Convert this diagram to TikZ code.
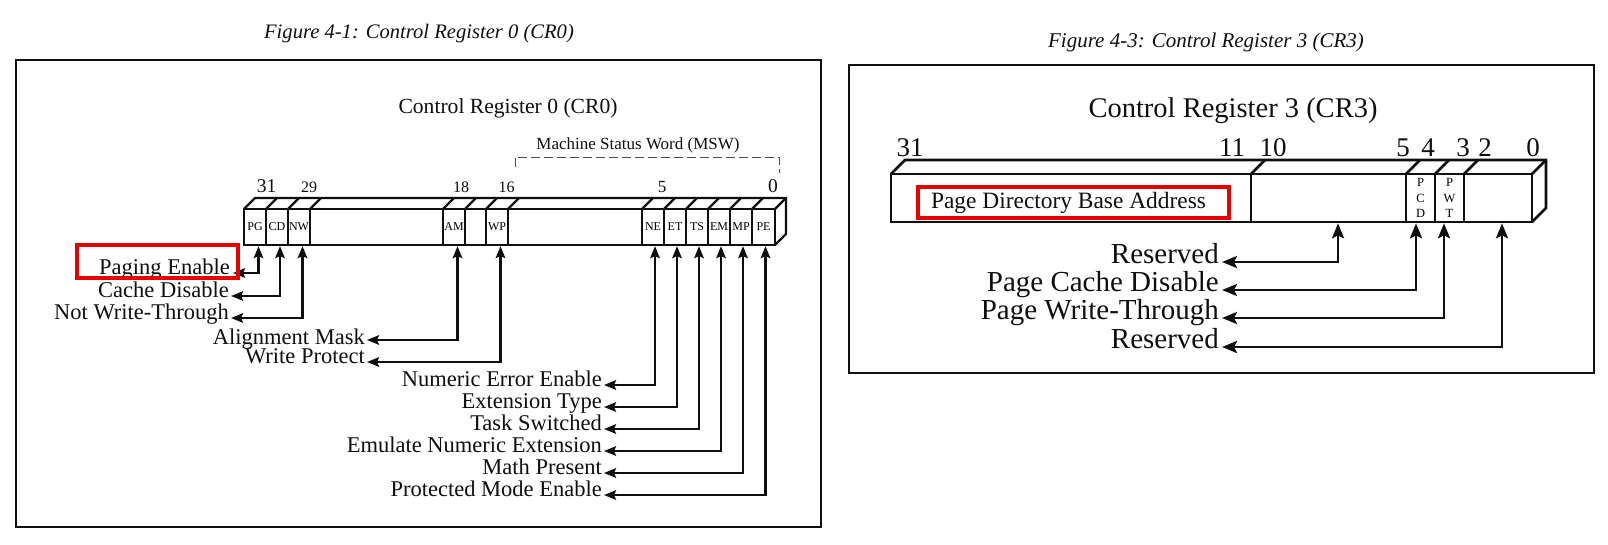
\documentclass[tikz,border=0pt]{standalone}
\usepackage{fontspec}
\setmainfont{Liberation Serif}
\usetikzlibrary{arrows.meta}
\definecolor{ink}{RGB}{15,15,15}
\definecolor{hl}{RGB}{235,0,0}
\tikzset{
  frame/.style={draw=ink, line width=1.5pt},
  lreg/.style={draw=ink, line width=2.2pt, line join=miter},
  rreg/.style={draw=ink, line width=2.6pt, line join=miter},
  lcell/.style={lreg, minimum height=36pt, inner sep=0pt, font=\fontsize{12}{12}\selectfont},
  rcell/.style={rreg, minimum height=48pt, inner sep=0pt},
  lconn/.style={draw=ink, line width=2.4pt, {Stealth[length=12pt,width=9.5pt,inset=2pt]}-{Stealth[length=12pt,width=9.5pt,inset=2pt]}},
  rconn/.style={draw=ink, line width=2.8pt, {Stealth[length=15pt,width=12pt,inset=3pt]}-{Stealth[length=15pt,width=12pt,inset=3pt]}},
  llbl/.style={font=\fontsize{22.5}{24}\selectfont, inner sep=0pt, anchor=base east, text=ink},
  rlbl/.style={font=\fontsize{29}{30}\selectfont, inner sep=0pt, anchor=base east, text=ink},
  lbitbig/.style={font=\fontsize{19.5}{20}\selectfont, inner sep=0pt, anchor=base, text=ink},
  lbitsmall/.style={font=\fontsize{16}{16}\selectfont, inner sep=0pt, anchor=base, text=ink},
  rbit/.style={font=\fontsize{27}{27}\selectfont, inner sep=0pt, anchor=base, text=ink},
  figtitle/.style={font=\fontsize{20.6}{22}\selectfont\itshape, inner sep=0pt, text=ink},
  highlight/.style={draw=hl, line width=3.5pt},
  msw/.style={draw=ink!75, line width=1pt, dash pattern=on 9pt off 4pt}
}
\begin{document}
\begin{tikzpicture}[x=1pt,y=-1pt]
\useasboundingbox (0,0) rectangle (1608,544);
\fill[white] (0,0) rectangle (1608,544);

% ================= LEFT FIGURE =================
\node[figtitle] (ltitle) at (419,34) {Figure 4-1: Control Register 0 (CR0)};
\draw[frame] (16,60) rectangle (821,527);
\node[font=\fontsize{21.6}{22}\selectfont, inner sep=0pt, text=ink] (lhead) at (508,108) {Control Register 0 (CR0)};
\node[font=\fontsize{17}{18}\selectfont, inner sep=0pt, text=ink] (mswt) at (638,145) {Machine Status Word (MSW)};
\draw[msw] (515,167) -- (515,157) -- (779,157) -- (779,173);

% bit numbers
\node[lbitbig] (b31) at (266.5,192) {31};
\node[lbitsmall] (b29) at (309,192) {29};
\node[lbitsmall] (b18) at (461,192) {18};
\node[lbitsmall] (b16) at (506.5,192) {16};
\node[lbitsmall, font=\fontsize{17}{17}\selectfont] (b5) at (662,192) {5};
\node[lbitbig] (b0) at (773,192) {0};

% cells (front face)
\node[lcell, minimum width=22pt] (pg) at (255,227) {PG};
\node[lcell, minimum width=22pt] (cd) at (277,227) {CD};
\node[lcell, minimum width=22pt] (nw) at (299,227) {NW};
\node[lcell, minimum width=133pt] (lg1) at (376.5,227) {};
\node[lcell, minimum width=22pt] (am) at (454,227) {\raisebox{-4.5pt}{AM}};
\node[lcell, minimum width=21pt] (lg2) at (475.5,227) {};
\node[lcell, minimum width=22pt] (wp) at (497,227) {\raisebox{-4.5pt}{WP}};
\node[lcell, minimum width=134pt] (lg3) at (575,227) {};
\node[lcell, minimum width=22pt] (ne) at (653,227) {NE};
\node[lcell, minimum width=22pt] (et) at (675,227) {ET};
\node[lcell, minimum width=22pt] (ts) at (697,227) {TS};
\node[lcell, minimum width=22pt] (em) at (719,227) {EM};
\node[lcell, minimum width=22pt] (mp) at (741,227) {MP};
\node[lcell, minimum width=23pt] (pe) at (763.5,227) {PE};
% top and side faces
\draw[lreg] (244,209) -- ++(11,-11) -- (786,198) -- (786,234) -- (775,245);
\foreach \bx in {266,288,310,443,465,486,508,642,664,686,708,730,752,775}
  \draw[lreg] (\bx,209) -- ++(11,-11);

% labels
\node[llbl] (lpg) at (230,274.5) {Paging Enable};
\node[llbl] (lcd) at (229,297.5) {Cache Disable};
\node[llbl] (lnw) at (229,319.5) {Not Write-Through};
\node[llbl] (lam) at (365,344) {Alignment Mask};
\node[llbl] (lwp) at (365,363.5) {Write Protect};
\node[llbl] (lne) at (602,386.5) {Numeric Error Enable};
\node[llbl] (let) at (602,408.5) {Extension Type};
\node[llbl] (lts) at (602,430.5) {Task Switched};
\node[llbl] (lem) at (602,452.5) {Emulate Numeric Extension};
\node[llbl] (lmp) at (602,474.5) {Math Present};
\node[llbl] (lpe) at (602,496.5) {Protected Mode Enable};

% connectors
\draw[lconn] ([xshift=3.5pt]pg.south) |- ([shift={(3,-1.5)}]lpg.base east);
\draw[lconn] ([xshift=3pt]cd.south) |- ([shift={(2,-1.5)}]lcd.base east);
\draw[lconn] ([xshift=3.5pt]nw.south) |- ([shift={(2,-1.5)}]lnw.base east);
\draw[lconn] ([xshift=3.5pt]am.south) |- ([shift={(2,-4)}]lam.base east);
\draw[lconn] ([xshift=3.5pt]wp.south) |- ([shift={(2,-1.5)}]lwp.base east);
\draw[lconn] ([xshift=2pt]ne.south) |- ([shift={(2,-1.5)}]lne.base east);
\draw[lconn] ([xshift=2pt]et.south) |- ([shift={(2,-1.5)}]let.base east);
\draw[lconn] ([xshift=2pt]ts.south) |- ([shift={(2,-1.5)}]lts.base east);
\draw[lconn] ([xshift=2pt]em.south) |- ([shift={(2,-1.5)}]lem.base east);
\draw[lconn] ([xshift=2pt]mp.south) |- ([shift={(2,-1.5)}]lmp.base east);
\draw[lconn] ([xshift=2pt]pe.south) |- ([shift={(2,-1.5)}]lpe.base east);

% highlight
\draw[highlight] (77,245) rectangle (238,278);

% ================= RIGHT FIGURE =================
\node[figtitle, font=\fontsize{21}{22}\selectfont\itshape] (rtitle) at (1206,42) {Figure 4-3: Control Register 3 (CR3)};
\draw[frame] (849,65) rectangle (1594,373);
\node[font=\fontsize{28.5}{30}\selectfont, inner sep=0pt, text=ink] (rhead) at (1233,111) {Control Register 3 (CR3)};

\node[rbit] (c31) at (910,156) {31};
\node[rbit] (c11) at (1232,156) {11};
\node[rbit] (c10) at (1273,156) {10};
\node[rbit] (c5) at (1403,156) {5};
\node[rbit] (c4) at (1428,156) {4};
\node[rbit] (c3) at (1463,156) {3};
\node[rbit] (c2) at (1485,156) {2};
\node[rbit] (c0) at (1533,156) {0};

\node[rcell, minimum width=360pt] (pdba) at (1071,198) {};
\node[rcell, minimum width=155pt] (r10) at (1328.5,198) {};
\node[rcell, minimum width=29pt, align=center, font=\fontsize{12.5}{15.5}\selectfont] (pcd) at (1420.5,198) {P\\C\\D};
\node[rcell, minimum width=29pt, align=center, font=\fontsize{12.5}{15.5}\selectfont] (pwt) at (1449.5,198) {P\\W\\T};
\node[rcell, minimum width=68pt] (r2) at (1498,198) {};
\draw[rreg] (891,174) -- ++(14,-14) -- (1546,160) -- (1546,208) -- (1532,222);
\foreach \bx in {1251,1406,1435,1464,1532}
  \draw[rreg] (\bx,174) -- ++(14,-14);

\node[highlight, minimum width=311pt, minimum height=31pt, inner sep=0pt, font=\fontsize{23.4}{24}\selectfont, text=ink] (pdbat) at (1073.5,202.5) {Page Directory Base Address\hspace*{10pt}};

\node[rlbl] (lres1) at (1219,263.5) {Reserved};
\node[rlbl] (lpcd) at (1219,291.5) {Page Cache Disable};
\node[rlbl] (lpwt) at (1219,319.5) {Page Write-Through};
\node[rlbl] (lres2) at (1219,348.5) {Reserved};

\draw[rconn] ([xshift=9.5pt]r10.south) |- ([shift={(3,-1.5)}]lres1.base east);
\draw[rconn] ([xshift=-4.5pt]pcd.south) |- ([shift={(3,-1.5)}]lpcd.base east);
\draw[rconn] ([xshift=-5.5pt]pwt.south) |- ([shift={(3,-1.5)}]lpwt.base east);
\draw[rconn] ([xshift=4pt]r2.south) |- ([shift={(3,-1.5)}]lres2.base east);
\end{tikzpicture}
\end{document}
